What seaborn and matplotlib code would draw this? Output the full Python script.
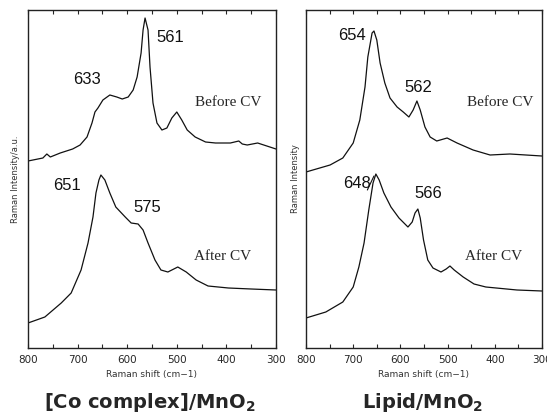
import matplotlib
matplotlib.use("Agg")
import matplotlib.pyplot as plt
import seaborn as sns
import pandas as pd
from matplotlib.ticker import MultipleLocator

# ---------------- data (arbitrary intensity units) ----------------
co_before_x = [800, 770, 762, 755, 735, 710, 695, 681, 671, 665, 659, 649, 635, 621, 610, 598, 588,
               580, 572, 568, 564, 558, 554, 548, 540, 530, 520, 510, 500, 490, 479, 463, 442, 422,
               392, 375, 368, 358, 337, 300]
co_before_y = [187, 190, 194, 191, 195, 199, 203, 211, 225, 236, 240, 248, 253, 251, 249, 251, 258,
               271, 295, 318, 330, 318, 281, 245, 225, 218, 220, 230, 236, 228, 218, 211, 206, 205,
               205, 207, 204, 203, 205, 199]

co_after_x = [800, 766, 733, 713, 693, 679, 669, 663, 657, 653, 645, 635, 623, 604, 592, 578, 568,
              558, 544, 532, 518, 498, 481, 461, 437, 396, 350, 300]
co_after_y = [25, 31, 45, 55, 78, 105, 131, 155, 168, 173, 168, 155, 141, 131, 125, 124, 118,
              105, 88, 78, 76, 81, 76, 68, 62, 60, 59, 58]

lp_before_x = [800, 749, 722, 700, 686, 675, 669, 660, 656, 650, 643, 633, 622, 607, 594, 582, 573,
               565, 558, 548, 537, 523, 501, 480, 446, 410, 368, 300]
lp_before_y = [176, 183, 190, 205, 228, 261, 291, 315, 317, 308, 285, 265, 250, 241, 236, 231, 238,
               247, 238, 221, 211, 207, 210, 205, 198, 193, 194, 192]

lp_after_x = [800, 758, 722, 700, 688, 677, 667, 658, 652, 645, 635, 620, 603, 584, 575, 569, 563,
              558, 551, 542, 531, 514, 503, 495, 486, 467, 444, 419, 353, 300]
lp_after_y = [30, 36, 46, 61, 81, 105, 138, 165, 174, 168, 155, 141, 130, 121, 126, 135, 139,
              130, 108, 88, 80, 76, 79, 82, 78, 71, 64, 61, 58, 57]

x_ticks = [800, 700, 600, 500, 400, 300]

co_labels = [("561", 514, 310), ("633", 681, 268), ("651", 721, 163), ("575", 560, 141)]
lp_labels = [("654", 703, 313), ("562", 563, 260), ("648", 692, 165), ("566", 542, 154)]
state_labels = ["Before CV", "After CV"]

# ---------------- plotting ----------------
sns.set_style("ticks")
plt.rcParams["font.family"] = ["DejaVu Sans"]

fig = plt.figure(figsize=(5.47, 4.16), dpi=100)
ax1 = fig.add_axes([28 / 547, 1 - 348 / 416, 248 / 547, 338 / 416])
ax2 = fig.add_axes([306 / 547, 1 - 348 / 416, 236 / 547, 338 / 416])

def draw(ax, bx, by, axx, ayy):
    df_b = pd.DataFrame({"x": bx, "y": by})
    df_a = pd.DataFrame({"x": axx, "y": ayy})
    sns.lineplot(data=df_b, x="x", y="y", ax=ax, color="#111111", lw=0.9, sort=False)
    sns.lineplot(data=df_a, x="x", y="y", ax=ax, color="#111111", lw=0.9, sort=False)
    ax.set_xlim(800, 300)
    ax.set_ylim(0, 338)
    ax.set_xticks(x_ticks)
    ax.set_xticklabels([str(t) for t in x_ticks])
    ax.xaxis.set_minor_locator(MultipleLocator(50))
    ax.tick_params(axis="x", which="both", direction="in", top=True, bottom=True,
                   length=3, width=0.8, labelsize=7.5, pad=5)
    ax.set_yticks([])
    for s in ax.spines.values():
        s.set_linewidth(1.0)
        s.set_color("#222222")
    ax.set_xlabel("Raman shift (cm\u22121)", fontsize=6.5, labelpad=4, color="#333333")

draw(ax1, co_before_x, co_before_y, co_after_x, co_after_y)
draw(ax2, lp_before_x, lp_before_y, lp_after_x, lp_after_y)

ax1.set_ylabel("Raman Intensity/a.u.", fontsize=6, labelpad=6, color="#333333")
ax2.set_ylabel("Raman Intensity", fontsize=6, labelpad=4, color="#333333")

for ax, labels in ((ax1, co_labels), (ax2, lp_labels)):
    for txt, x, y in labels:
        ax.text(x, y, txt, fontsize=12, ha="center", va="center",
                family=["Liberation Sans"], color="#111111")

ax1.text(397, 246, state_labels[0], fontsize=11, ha="center", va="center", family=["Liberation Serif"])
ax1.text(407, 91, state_labels[1], fontsize=11, ha="center", va="center", family=["Liberation Serif"])
ax2.text(389, 246, state_labels[0], fontsize=11, ha="center", va="center", family=["Liberation Serif"])
ax2.text(402, 91, state_labels[1], fontsize=11, ha="center", va="center", family=["Liberation Serif"])

# small leader line for 648
ax2.plot([670, 656], [158, 172], color="#111111", lw=0.8)

fig.text(150 / 547, 1 - 402 / 416, "[Co complex]/MnO$_\\mathbf{2}$", fontsize=14, fontweight="bold",
         ha="center", va="center")
fig.text(423 / 547, 1 - 402 / 416, "Lipid/MnO$_\\mathbf{2}$", fontsize=14, fontweight="bold",
         ha="center", va="center")

fig.savefig("out.png", dpi=100)
